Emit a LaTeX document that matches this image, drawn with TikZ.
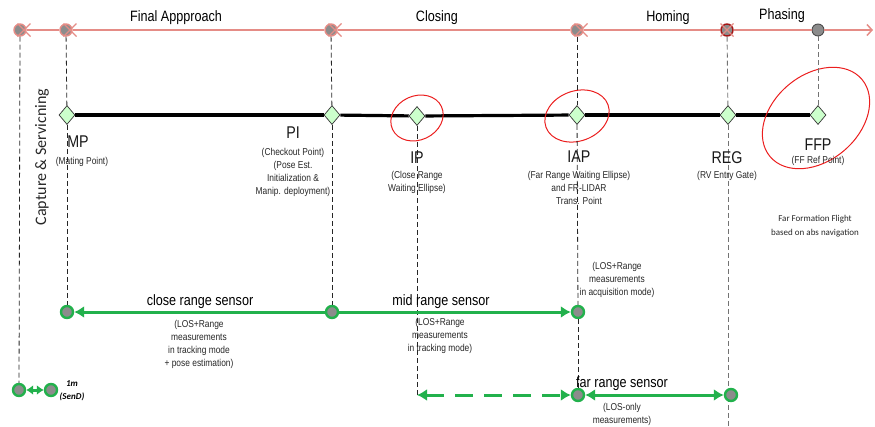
\documentclass[tikz,border=0pt]{standalone}
\usepackage{fontspec}
\setmainfont{Liberation Sans}
\newfontfamily\narf[FakeStretch=0.84]{Liberation Sans}
\newfontfamily\calf{Carlito}
\usetikzlibrary{arrows.meta,shapes.geometric}
\definecolor{pinkl}{RGB}{229,140,134}
\definecolor{grn}{RGB}{34,177,76}
\definecolor{dotg}{RGB}{140,140,140}
\definecolor{wpt}{RGB}{204,255,204}
\definecolor{ellred}{RGB}{235,30,30}
\tikzset{
  gtip/.tip={Latex[length=10pt,width=12pt]},
  stip/.tip={Latex[length=7pt,width=10pt]},
  topdot/.style={circle,fill=dotg,draw=pinkl,line width=1.4pt,minimum size=12pt,inner sep=0pt},
  topdotd/.style={circle,fill=dotg,draw=black!70,line width=0.9pt,minimum size=12pt,inner sep=0pt},
  grdot/.style={circle,fill=dotg,draw=grn,line width=2.4pt,minimum size=12pt,inner sep=0pt},
  wpbox/.style={diamond,fill=wpt,draw=black!80,line width=0.7pt,minimum width=16pt,minimum height=19pt,inner sep=0pt},
  vdash/.style={draw=black!85,line width=0.8pt,dash pattern=on 5pt off 3pt},
  vdashg/.style={draw=black!55,line width=0.9pt,dash pattern=on 5pt off 3pt},
  bigl/.style={font=\narf\fontsize{17}{19}\selectfont,inner sep=0pt,text=black!90},
  smalll/.style={font=\narf\fontsize{10}{13}\selectfont,align=center,inner sep=0pt,text=black!85},
  grline/.style={draw=grn,line width=3pt},
  xmark/.style={draw=pinkl,line width=1.2pt},
  ellline/.style={draw=ellred,line width=1pt}
}
\begin{document}
\begin{tikzpicture}[x=1pt,y=-1pt]
\useasboundingbox (0,0) rectangle (875,426);

% ---- top phase line
\node[topdot] (td0) at (20,30) {};
\node[topdot] (td1) at (66,30) {};
\node[topdot] (td2) at (331,30) {};
\node[topdot] (td4) at (577,30) {};
\node[topdot,draw=ellred!70!black] (td5) at (727,30) {};
\node[topdotd] (td6) at (818,30) {};
\coordinate (tend) at (873,30);
\draw[pinkl,line width=1.5pt] (td0) -- (td1);
\draw[pinkl,line width=1.5pt] (td1) -- (td2);
\draw[pinkl,line width=1.5pt] (td2) -- (td4);
\draw[pinkl,line width=1.5pt] (td4) -- (td5);
\draw[pinkl,line width=1.5pt] (td5) -- (td6);
\draw[pinkl,line width=1.5pt,-{Straight Barb[length=5pt,width=11pt]}] (td6) -- (tend);
\foreach \xx in {24,70,335,581,727} {
  \draw[xmark] (\xx-6.5,23.5) -- (\xx+6.5,36.5);
  \draw[xmark] (\xx-6.5,36.5) -- (\xx+6.5,23.5);
}
\node[font=\narf\fontsize{15}{17}\selectfont] (ph1) at (176,18) {Final Appproach};
\node[font=\narf\fontsize{15}{17}\selectfont] (ph2) at (437,18) {Closing};
\node[font=\narf\fontsize{15}{17}\selectfont] (ph3) at (668,18) {Homing};
\node[font=\narf\fontsize{15}{17}\selectfont] (ph4) at (782,16) {Phasing};

% ---- waypoints
\node[wpbox] (wMP) at (67,115) {};
\node[wpbox] (wPI) at (332,115) {};
\node[wpbox] (wIP) at (417,116) {};
\node[wpbox] (wIAP) at (577,115) {};
\node[wpbox] (wREG) at (728,115) {};
\node[wpbox] (wFFP) at (818,115) {};
\draw[line width=3.2pt] (wMP) -- (wPI);
\draw[line width=3.2pt] (wPI) -- (wIP);
\draw[line width=3.2pt] (wIP) -- (wIAP);
\draw[line width=3.2pt] (wIAP) -- (wREG);
\draw[line width=3.2pt] (wREG) -- (wFFP);

% ---- red waiting ellipses
\draw[ellline,rotate around={25:(417,118)}] (417,118) ellipse [x radius=27pt,y radius=22pt];
\draw[ellline,rotate around={20:(577,116)}] (577,116) ellipse [x radius=33pt,y radius=25pt];
\draw[ellline,rotate around={40:(816,118)}] (816,118) ellipse [x radius=60pt,y radius=43pt];

% ---- coordinates for free ends
\coordinate (fIP) at (417,395);
\coordinate (rbot) at (728,426);

% ---- vertical dashed lines drawn before the circles they pass behind
\draw[vdashg] (td5) -- (wREG);
\draw[vdashg] (wREG) -- (rbot);
\draw[vdashg] (td6) -- (wFFP);
\draw[vdash] (wIP) -- (fIP);

% ---- sensor circles
\node[grdot] (cMP) at (67,312) {};
\node[grdot] (cPI) at (332,312) {};
\node[grdot] (cIAP) at (578,312) {};
\node[grdot] (fIAP) at (578,395) {};
\node[grdot] (fREG) at (731,395) {};
\node[grdot] (bl0) at (19,390) {};
\node[grdot] (bl1) at (51,390) {};

\draw[vdash] (td0) -- (bl0);
\draw[vdash] (td1) -- (wMP);
\draw[vdash] (wMP) -- (cMP);
\draw[vdash] (td2) -- (wPI);
\draw[vdash] (wPI) -- (cPI);
\draw[vdash] (td4) -- (wIAP);
\draw[vdash] (wIAP) -- (cIAP);
\draw[vdash] (cIAP) -- (fIAP);

% ---- sensor ranges
\draw[grline,{gtip}-] (cMP) -- (cPI);
\draw[grline,-{gtip}] (cPI) -- (cIAP);
\draw[grline,dash pattern=on 18pt off 11pt,{gtip}-{gtip}] (fIP) -- (fIAP);
\draw[grline,{gtip}-{gtip}] (fIAP) -- (fREG);
\draw[grline,{stip}-{stip}] (bl0) -- (bl1);

% ---- waypoint labels
\node[bigl] (lMP) at (78,142) {MP};
\node[smalll] (sMP) at (82,162) {(Mating Point)};
\node[bigl] (lPI) at (293,133) {PI};
\node[smalll] (sPI) at (293,172) {(Checkout Point)\\(Pose Est.\\Initialization \&\\Manip. deployment)};
\node[bigl] (lIP) at (417,158) {IP};
\node[smalll] (sIP) at (417,182.5) {(Close Range\\Waiting Ellipse)};
\node[bigl] (lIAP) at (579,157) {IAP};
\node[smalll] (sIAP) at (579,187.5) {(Far Range Waiting Ellipse)\\and FR-LIDAR\\Trans. Point};
\node[bigl] (lREG) at (727,158) {REG};
\node[smalll] (sREG) at (727,176) {(RV Entry Gate)};
\node[bigl] (lFFP) at (818,145) {FFP};
\node[smalll] (sFFP) at (818,161) {(FF Ref Point)};
\node[font=\calf\fontsize{9}{14}\selectfont,align=center,text=black!85] (farf) at (815,226) {Far Formation Flight\\based on abs navigation};
\node[font=\calf\fontsize{16}{18}\selectfont,rotate=90,text=black!85] (capt) at (42,157) {Capture \& Servicning};

% ---- sensor labels
\node[font=\narf\fontsize{15}{17}\selectfont] (lcr) at (200,302) {close range sensor};
\node[smalll] (scr) at (199,344) {(LOS+Range\\measurements\\in tracking mode\\+ pose estimation)};
\node[font=\narf\fontsize{15}{17}\selectfont] (lmr) at (441,302) {mid range sensor};
\node[smalll] (smr) at (440,336) {(LOS+Range\\measurements\\in tracking mode)};
\node[smalll] (sacq) at (617,280) {(LOS+Range\\measurements\\in acquisition mode)};
\node[font=\narf\fontsize{15}{17}\selectfont] (lfr) at (622,384) {far range sensor};
\node[smalll] (sfr) at (622,414.5) {(LOS-only\\measurements)};
\node[font=\calf\bfseries\itshape\fontsize{9}{13}\selectfont,align=center] (l1m) at (72,391) {1m\\(SenD)};
\end{tikzpicture}
\end{document}
